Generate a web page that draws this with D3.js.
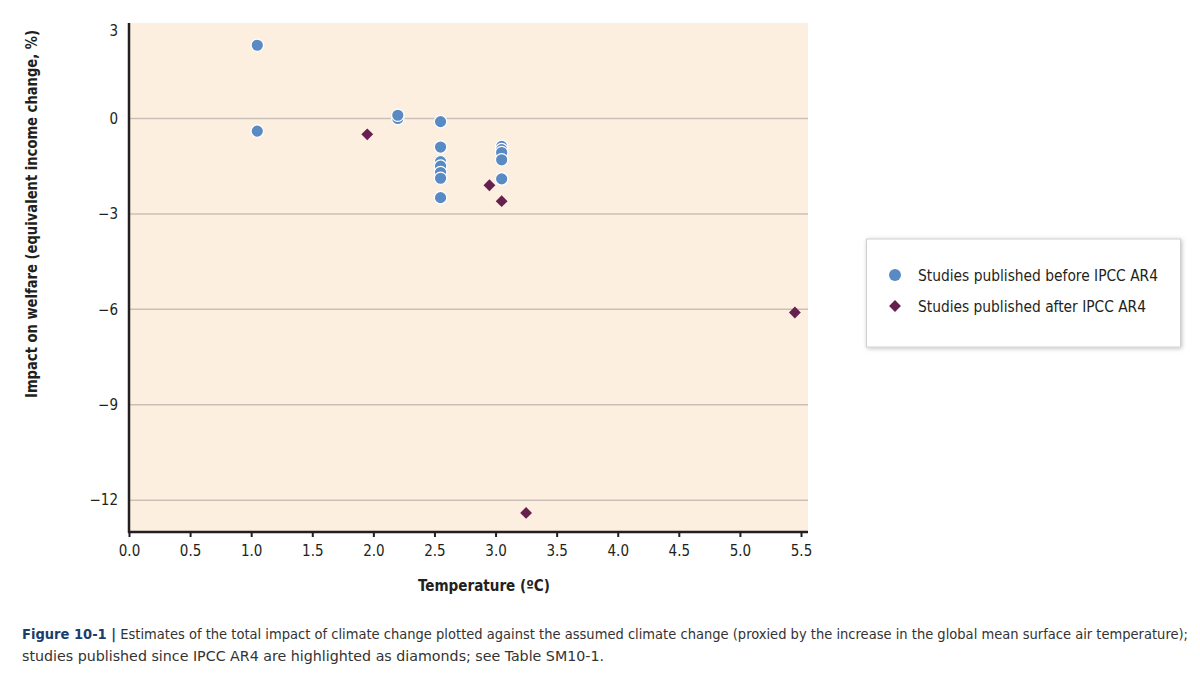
<!DOCTYPE html>
<html>
<head>
<meta charset="utf-8">
<script src="https://cdn.jsdelivr.net/npm/d3@7"></script>
<style>
  html, body { margin: 0; padding: 0; background: #fff; }
  svg { display: block; }
  .cond { font-family: "Liberation Sans Narrow", "DejaVu Sans Condensed", "Open Sans", sans-serif; font-stretch: condensed; }
</style>
</head>
<body>
<svg id="chart" width="1200" height="677"></svg>
<script>
// ---- data ----
const beforeTemp  = [1.05, 1.05, 2.2, 2.2, 2.55, 2.55, 2.55, 2.55, 2.55, 2.55, 2.55, 3.05, 3.05, 3.05, 3.05, 3.05];
const beforeImpact = [2.3, -0.4, 0.0, 0.1, -0.1, -0.9, -1.36, -1.5, -1.7, -1.88, -2.49, -0.88, -0.98, -1.07, -1.3, -1.9];
const afterTemp   = [1.95, 2.95, 3.05, 3.25, 5.45];
const afterImpact = [-0.5, -2.1, -2.6, -12.4, -6.1];
const xTicks = [0, 0.5, 1, 1.5, 2, 2.5, 3, 3.5, 4, 4.5, 5, 5.5];
const yTicks = [3, 0, -3, -6, -9, -12];
const legendLabels = ["Studies published before IPCC AR4", "Studies published after IPCC AR4"];
const xTitle = "Temperature (ºC)";
const yTitle = "Impact on welfare (equivalent income change, %)";
const captionBold = "Figure 10-1 |";
const captionLine1 = " Estimates of the total impact of climate change plotted against the assumed climate change (proxied by the increase in the global mean surface air temperature);";
const captionLine2 = "studies published since IPCC AR4 are highlighted as diamonds; see Table SM10-1.";

const blue = "#5a8ac3", purple = "#66204f", bg = "#fdefdf", grid = "#c9c1b8", axisCol = "#231f20";

const svg = d3.select("#chart");
const plotL = 129, plotR = 808, plotT = 23, plotB = 532;

const x = d3.scaleLinear().domain([0, 5.5]).range([129, 801]);
const y = d3.scaleLinear().domain([-13, 3]).range([plotB, plotT]);

// background
svg.append("rect").attr("x", plotL).attr("y", plotT).attr("width", plotR - plotL).attr("height", plotB - plotT).attr("fill", bg);

// gridlines
svg.append("g").selectAll("line").data(yTicks.filter(d => d < 3)).join("line")
  .attr("x1", plotL).attr("x2", plotR).attr("y1", d => y(d)).attr("y2", d => y(d))
  .attr("stroke", grid).attr("stroke-width", 1.5);

// y tick labels
const fmtY = d => d < 0 ? "\u2212" + Math.abs(d) : String(d);
svg.append("g").attr("class", "cond").selectAll("text").data(yTicks).join("text")
  .attr("x", 118).attr("y", d => y(d) + (d === 3 ? 8 : 0)).attr("dy", "0.35em")
  .attr("text-anchor", "end").attr("font-size", 15).attr("fill", "#231f20")
  .text(fmtY);

// x axis
const xAxis = d3.axisBottom(x).tickValues(xTicks).tickSize(5).tickPadding(8).tickFormat(d3.format(".1f"));
const gx = svg.append("g").attr("transform", `translate(0,${plotB})`).call(xAxis);
gx.select(".domain").remove();
gx.selectAll(".tick line").attr("stroke", axisCol).attr("stroke-width", 2);
gx.selectAll(".tick text").attr("class", "cond").attr("font-size", 15).attr("fill", "#231f20")
  .style("font-family", '"Liberation Sans Narrow", "DejaVu Sans Condensed", sans-serif');
svg.append("line").attr("x1", plotL - 1).attr("x2", plotR).attr("y1", plotB).attr("y2", plotB)
  .attr("stroke", axisCol).attr("stroke-width", 2.5);
svg.append("line").attr("x1", plotL).attr("x2", plotL).attr("y1", plotT).attr("y2", plotB + 1)
  .attr("stroke", axisCol).attr("stroke-width", 2.5);

// points: before (circles)
const before = beforeTemp.map((t, i) => ({ t, v: beforeImpact[i] }));
const after = afterTemp.map((t, i) => ({ t, v: afterImpact[i] }));
svg.append("g").selectAll("circle").data(before).join("circle")
  .attr("cx", d => x(d.t)).attr("cy", d => y(d.v)).attr("r", 6.2)
  .attr("fill", blue).attr("stroke", "#fff").attr("stroke-width", 1.2);

const diamond = d3.symbol().type(d3.symbolSquare).size(70);
svg.append("g").selectAll("path").data(after).join("path")
  .attr("d", diamond)
  .attr("transform", d => `translate(${x(d.t)},${y(d.v)}) rotate(45)`)
  .attr("fill", purple);

// axis titles
svg.append("text").attr("class", "cond").attr("x", 484).attr("y", 591)
  .attr("text-anchor", "middle").attr("font-size", 15.5).attr("font-weight", "bold").attr("fill", "#231f20")
  .attr("textLength", 132).attr("lengthAdjust", "spacingAndGlyphs")
  .text(xTitle);
svg.append("text").attr("class", "cond")
  .attr("transform", "translate(37,214) rotate(-90)")
  .attr("text-anchor", "middle").attr("font-size", 15).attr("font-weight", "bold").attr("fill", "#231f20")
  .attr("textLength", 368).attr("lengthAdjust", "spacingAndGlyphs")
  .text(yTitle);

// legend
const defs = svg.append("defs");
const f = defs.append("filter").attr("id", "sh").attr("x", "-10%").attr("y", "-20%").attr("width", "120%").attr("height", "140%");
f.append("feDropShadow").attr("dx", 1).attr("dy", 1).attr("stdDeviation", 2).attr("flood-color", "#000").attr("flood-opacity", 0.25);
svg.append("rect").attr("x", 866.5).attr("y", 239).attr("width", 314).attr("height", 108)
  .attr("fill", "#fff").attr("stroke", "#d0d0d0").attr("stroke-width", 1).attr("filter", "url(#sh)");
const lg = svg.append("g");
lg.append("circle").attr("cx", 895).attr("cy", 275).attr("r", 6).attr("fill", blue);
lg.append("path").attr("d", diamond).attr("transform", "translate(895,306) rotate(45)").attr("fill", purple);
const legendLens = [240, 228];
lg.selectAll("text").data(legendLabels).join("text").attr("class", "cond")
  .attr("x", 918).attr("y", (d, i) => 275 + i * 31).attr("dy", "0.35em")
  .attr("font-size", 16.5).attr("fill", "#231f20")
  .attr("textLength", (d, i) => legendLens[i]).attr("lengthAdjust", "spacingAndGlyphs")
  .text(d => d);

// caption
const c1 = svg.append("text").attr("class", "cond").attr("x", 22).attr("y", 639).attr("font-size", 14).attr("fill", "#333")
  .attr("textLength", 1166).attr("lengthAdjust", "spacingAndGlyphs");
c1.append("tspan").attr("font-weight", "bold").attr("fill", "#1d3c6e").text(captionBold);
c1.append("tspan").text(captionLine1);
svg.append("text").attr("class", "cond").attr("x", 22).attr("y", 661).attr("font-size", 14.5).attr("fill", "#333")
  .attr("textLength", 582).attr("lengthAdjust", "spacingAndGlyphs")
  .text(captionLine2);
</script>
</body>
</html>
